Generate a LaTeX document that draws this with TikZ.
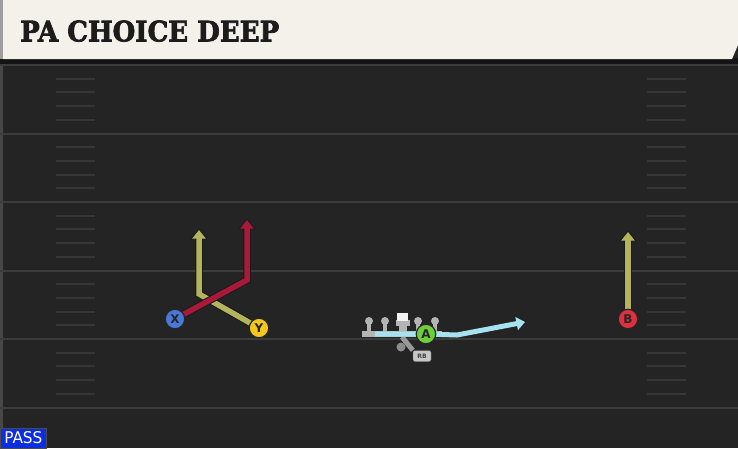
\documentclass[tikz,border=0pt]{standalone}
\usepackage{fontspec}
\usepackage{graphicx}
\setmainfont{DejaVu Sans}
\newfontfamily\titlefont{DejaVu Serif}[FakeBold=2.5]
\newfontfamily\condfont{DejaVu Sans Condensed}
\usetikzlibrary{arrows.meta}
\definecolor{fieldbg}{HTML}{242424}
\definecolor{fieldline}{HTML}{3C3C3C}
\definecolor{hashc}{HTML}{363636}
\definecolor{banner}{HTML}{F4F1EA}
\definecolor{titlec}{HTML}{1C1C1C}
\definecolor{redroute}{HTML}{A8193A}
\definecolor{oliveroute}{HTML}{B4B45C}
\definecolor{blueroute}{HTML}{A6E2F0}
\definecolor{xblue}{HTML}{4A78D8}
\definecolor{yyellow}{HTML}{F2C81E}
\definecolor{bred}{HTML}{E0303F}
\definecolor{agreen}{HTML}{6CCF3A}
\definecolor{passblue}{HTML}{0B2EE0}
\definecolor{olgrey}{HTML}{B4B4B4}
\tikzset{
  routeout/.style={draw=black!90, line width=7.5pt, line join=miter, -{Triangle[width=16pt,length=10.5pt]}, shorten >=-1.5pt},
  routein/.style={draw=#1, line width=5.5pt, line join=miter, -{Triangle[width=13pt,length=8.5pt]}},
  player/.style={circle, fill=#1, draw=black!85, line width=1.2pt, minimum size=19.5pt, inner sep=0pt, font=\fontsize{12}{12}\selectfont\bfseries, text=black!85},
  hashmark/.style={draw=hashc, line width=2pt},
  yardline/.style={draw=fieldline, line width=2pt},
  olhead/.style={circle, fill=olgrey, inner sep=0pt, minimum size=8pt},
}
\begin{document}
\begin{tikzpicture}[x=1pt,y=-1pt]
\useasboundingbox (0,0) rectangle (738,448);
% field
\fill[fieldbg] (0,0) rectangle (738,448);
\fill[black!72] (0,65) rectangle (3,448);
% yard lines
\foreach \k in {0,...,5} {
  \draw[yardline] (0,{65+68.5*\k}) -- (738,{65+68.5*\k});
}
% hash marks
\foreach \k in {0,...,4} {
  \foreach \j in {1,...,4} {
    \draw[hashmark] (56,{65+68.5*\k+13.7*\j}) -- (95,{65+68.5*\k+13.7*\j});
    \draw[hashmark] (647,{65+68.5*\k+13.7*\j}) -- (686,{65+68.5*\k+13.7*\j});
  }
}
% banner
\fill[black!92] (0,58) rectangle (738,64);
\fill[banner] (3,0) -- (738,0) -- (738,45) -- (732,59) -- (3,59) -- cycle;
\fill[black!38] (0,0) rectangle (3,59);
\node[anchor=south west, inner sep=0pt, text=titlec] (title) at (20,42)
  {\resizebox{259pt}{21pt}{\titlefont\bfseries PA CHOICE DEEP}};

% offensive line
\fill[olgrey] (362,331) rectangle (442,337);
\foreach \x in {369,385,418,435} {
  \fill[olgrey] (\x-2.2,322) rectangle (\x+2.2,332);
  \node[olhead] at (\x,321) {};
}
\fill[olgrey] (399,323) rectangle (407,332);
\fill[olgrey] (396,320) rectangle (410,326);
\fill[white!95!black] (397,313) rectangle (408,321);

% RB / QB
\node[circle, fill=black!45, inner sep=0pt, minimum size=9pt] (qb) at (401,347) {};
\node[fill=black!22, draw=black!60, rounded corners=2pt, inner sep=0pt, minimum width=18pt, minimum height=11pt, font=\fontsize{6}{6}\selectfont\bfseries, text=black!75] (rb) at (422,356) {RB};
\coordinate (rbstart) at (402,337);
\draw[draw=black!40, line width=5pt] (rbstart) -- (rb.north west);

% coordinates
\coordinate (xturn) at (247,280);
\coordinate (xend) at (247,220);
\coordinate (yturn) at (199,294);
\coordinate (yend) at (199,230);
\coordinate (bend) at (628,232);
\coordinate (astart) at (375,334);
\coordinate (aturn) at (457,335);
\coordinate (aend) at (525,322);

% player positions
\coordinate (Xp) at (175,319);
\coordinate (Yp) at (259,328);
\coordinate (Bp) at (628,319);
\coordinate (Ap) at (426,334);

% routes (Y under X)
\draw[routeout] (Yp) -- (yturn) -- (yend);
\draw[routein=oliveroute] (Yp) -- (yturn) -- (yend);
\draw[routeout] (Xp) -- (xturn) -- (xend);
\draw[routein=redroute] (Xp) -- (xturn) -- (xend);
\draw[routeout] (Bp) -- (bend);
\draw[routein=oliveroute] (Bp) -- (bend);
\draw[draw=blueroute, line width=5pt, line join=miter, -{Triangle[width=13pt,length=8.5pt]}] (astart) -- (Ap) -- (aturn) -- (aend);

% players
\node[player=xblue] (X) at (Xp) {X};
\node[player=yyellow] (Y) at (Yp) {Y};
\node[player=bred] (B) at (Bp) {B};
\node[player=agreen] (A) at (Ap) {A};

% PASS label
\node[anchor=south west, fill=passblue, draw=black!70, line width=0.8pt, minimum width=46pt, minimum height=20pt, inner sep=0pt, text=white] (pass) at (0,448.4)
  {\resizebox{38pt}{12pt}{\condfont PASS}};
\end{tikzpicture}
\end{document}
